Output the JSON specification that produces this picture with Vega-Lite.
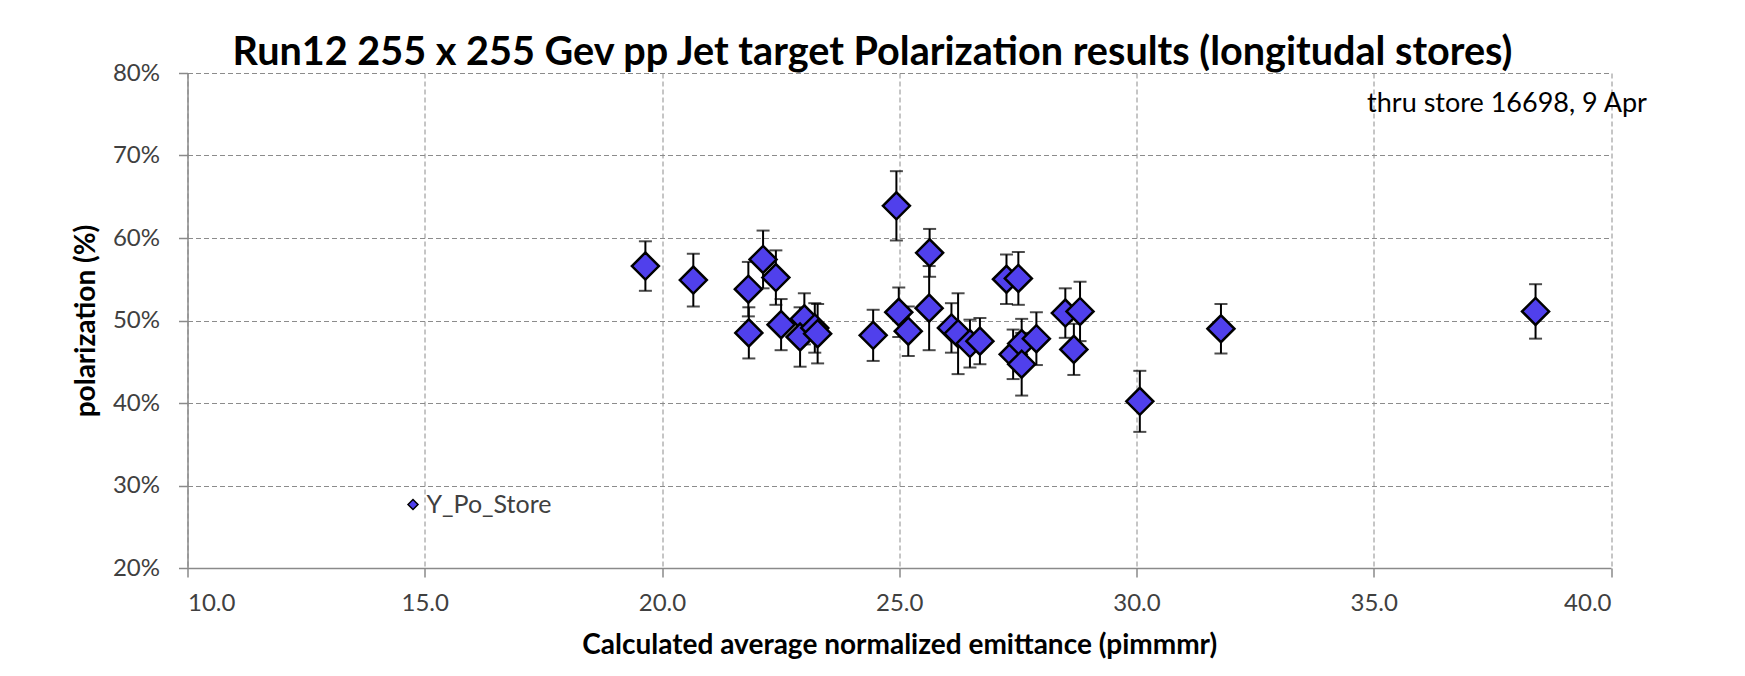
{
  "$schema": "https://vega.github.io/schema/vega-lite/v6.json",
  "autosize": "none",
  "width": 1423.5,
  "height": 495,
  "padding": {"left": 187.5, "top": 73, "right": 134, "bottom": 108},
  "background": "white",
  "title": {
    "text": "Run12 255 x 255 Gev pp Jet target Polarization results (longitudal stores)",
    "font": "Lato",
    "fontSize": 39.6,
    "fontWeight": "bold",
    "color": "black",
    "anchor": "start",
    "frame": "group",
    "dx": 45,
    "baseline": "alphabetic",
    "offset": -44
  },
  "config": {
    "view": {"stroke": null},
    "axis": {
      "labelFont": "Lato",
      "labelFontSize": 24,
      "labelColor": "#404040",
      "titleFont": "Lato",
      "titleFontSize": 28,
      "titleFontWeight": "bold",
      "titleColor": "black",
      "domainColor": "#8a8a8a",
      "domainWidth": 1.5,
      "tickColor": "#8a8a8a",
      "tickWidth": 1.5,
      "tickSize": 9,
      "labelPadding": 14,
      "gridColor": "#8c8c8c",
      "gridDash": [5, 3],
      "gridWidth": 1
    }
  },
  "datasets": {
    "stores": [
      {"emit": 19.65, "pol": 56.6, "err": 3.0},
      {"emit": 20.66, "pol": 54.9, "err": 3.2},
      {"emit": 21.82, "pol": 53.8, "err": 3.3},
      {"emit": 21.83, "pol": 48.5, "err": 3.1},
      {"emit": 22.13, "pol": 57.4, "err": 3.5},
      {"emit": 22.40, "pol": 55.2, "err": 3.3},
      {"emit": 22.51, "pol": 49.5, "err": 3.1},
      {"emit": 23.00, "pol": 50.2, "err": 3.1},
      {"emit": 22.91, "pol": 48.0, "err": 3.6},
      {"emit": 23.22, "pol": 49.1, "err": 3.0},
      {"emit": 23.28, "pol": 48.4, "err": 3.6},
      {"emit": 24.45, "pol": 48.2, "err": 3.1},
      {"emit": 24.94, "pol": 63.9, "err": 4.2},
      {"emit": 24.99, "pol": 51.0, "err": 3.0},
      {"emit": 25.19, "pol": 48.7, "err": 3.0},
      {"emit": 25.64, "pol": 58.2, "err": 2.9},
      {"emit": 25.63, "pol": 51.5, "err": 5.1},
      {"emit": 26.10, "pol": 49.1, "err": 3.0},
      {"emit": 26.24, "pol": 48.4, "err": 4.9},
      {"emit": 26.49, "pol": 47.2, "err": 2.9},
      {"emit": 26.70, "pol": 47.5, "err": 2.8},
      {"emit": 27.26, "pol": 55.0, "err": 3.0},
      {"emit": 27.51, "pol": 55.1, "err": 3.2},
      {"emit": 27.40, "pol": 45.9, "err": 3.0},
      {"emit": 27.58, "pol": 47.2, "err": 3.0},
      {"emit": 27.58, "pol": 44.7, "err": 3.8},
      {"emit": 27.89, "pol": 47.8, "err": 3.2},
      {"emit": 28.50, "pol": 50.9, "err": 3.0},
      {"emit": 28.81, "pol": 51.1, "err": 3.6},
      {"emit": 28.68, "pol": 46.5, "err": 3.1},
      {"emit": 30.07, "pol": 40.2, "err": 3.7},
      {"emit": 31.78, "pol": 49.0, "err": 3.0},
      {"emit": 38.41, "pol": 51.1, "err": 3.3}
    ],
    "note": [
      {"label": "thru store 16698, 9 Apr", "emit": 34.86, "pol": 75.3}
    ]
  },
  "encoding": {
    "x": {
      "field": "emit",
      "type": "quantitative",
      "scale": {"domain": [10, 40], "nice": false, "zero": false},
      "axis": {
        "title": "Calculated average normalized emittance (pimmmr)",
        "values": [10, 15, 20, 25, 30, 35, 40],
        "format": ".1f",
        "titlePadding": 16
      }
    },
    "y": {
      "field": "pol",
      "type": "quantitative",
      "scale": {"domain": [20, 80], "nice": false, "zero": false},
      "axis": {
        "title": "polarization (%)",
        "values": [20, 30, 40, 50, 60, 70, 80],
        "labelExpr": "datum.value + '%'",
        "labelPadding": 19,
        "titlePadding": 12
      }
    }
  },
  "layer": [
    {
      "data": {"name": "stores"},
      "mark": {
        "type": "errorbar",
        "ticks": {"size": 13, "thickness": 2, "color": "black"},
        "rule": {"strokeWidth": 2, "color": "black"}
      },
      "encoding": {
        "yError": {"field": "err"}
      }
    },
    {
      "data": {"name": "stores"},
      "mark": {
        "type": "point",
        "shape": "diamond",
        "filled": true,
        "size": 729,
        "stroke": "black",
        "strokeWidth": 2.5,
        "opacity": 1
      },
      "encoding": {
        "color": {
          "datum": "Y_Po_Store",
          "type": "nominal",
          "scale": {"range": ["#5040EC"]},
          "legend": {
            "title": null,
            "orient": "none",
            "legendX": 213,
            "legendY": 419,
            "padding": 0,
            "symbolType": "diamond",
            "labelFont": "Lato",
            "labelFontSize": 25,
            "labelColor": "#404040",
            "labelOffset": 1,
            "encode": {
              "symbols": {
                "update": {
                  "size": {"value": 200},
                  "stroke": {"value": "#222222"},
                  "strokeWidth": {"value": 1},
                  "fill": {"value": "#5040EC"}
                }
              }
            }
          }
        }
      }
    },
    {
      "data": {"name": "note"},
      "mark": {
        "type": "text",
        "font": "Lato",
        "fontSize": 27,
        "fontWeight": "normal",
        "color": "black",
        "align": "left",
        "baseline": "alphabetic"
      },
      "encoding": {
        "text": {"field": "label"}
      }
    }
  ]
}
